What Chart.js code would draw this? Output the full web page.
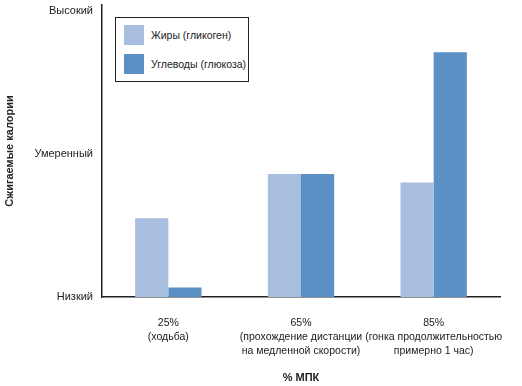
<!DOCTYPE html>
<html>
<head>
<meta charset="utf-8">
<script src="https://cdn.jsdelivr.net/npm/chart.js@4/dist/chart.umd.min.js"></script>
<style>
    body { margin: 0; background: #fff; }
    .wrap { position: relative; width: 522px; height: 386px; }
    #legend {
        position: absolute; left: 115px; top: 17px; width: 132px; height: 63px;
        border: 1px solid #222; background: #fff;
        font: 10.5px 'Liberation Sans', Arial, sans-serif; color: #222;
    }
    #legend .item { position: absolute; left: 8px; height: 20px; line-height: 20px; white-space: nowrap; }
    #legend .sw { display: inline-block; width: 20px; height: 20px; vertical-align: top; margin-right: 7px; }
</style>
</head>
<body>
<div class="wrap">
    <canvas id="myChart" width="522" height="386"></canvas>
    <div id="legend"></div>
</div>
<script>
const categories = [
    ['25%', '(ходьба)'],
    ['65%', '(прохождение дистанции', 'на медленной скорости)'],
    ['85%', '(гонка продолжительностью', 'примерно 1 час)']
];
const fatValues = [0.55, 0.86, 0.80];
const carbValues = [0.066, 0.86, 1.71];
const seriesNames = ['Жиры (гликоген)', 'Углеводы (глюкоза)'];
const levelLabels = ['Низкий', 'Умеренный', 'Высокий'];

const FONT = "'Liberation Sans', Arial, sans-serif";
const colors = ['#a7bede', '#5b90c4'];

const datasets = [fatValues, carbValues].map((vals, i) => ({
    label: seriesNames[i],
    data: vals,
    backgroundColor: colors[i],
    borderWidth: 0,
    barPercentage: 1.0,
    categoryPercentage: 0.5
}));

const ctx = document.getElementById('myChart').getContext('2d');
const myChart = new Chart(ctx, {
    type: 'bar',
    data: { labels: categories, datasets: datasets },
    options: {
        responsive: false,
        animation: false,
        layout: { padding: { top: 5, right: 22, left: 0, bottom: 0 } },
        plugins: { legend: { display: false }, tooltip: { enabled: false } },
        scales: {
            x: {
                grid: { display: false, drawTicks: false },
                border: { display: true, color: '#222', width: 1.5 },
                ticks: {
                    color: '#222', padding: 19, maxRotation: 0, autoSkip: false,
                    font: { family: FONT, size: 10.5, lineHeight: 1.35 }
                },
                title: {
                    display: true, text: '% МПК', color: '#222',
                    font: { family: FONT, size: 11, weight: 'bold' },
                    padding: { top: 0, bottom: 1 }
                },
                afterFit: function(scale) {
                    scale.height = 89;
                    scale.paddingLeft = 0;
                    scale.paddingRight = 0;
                }
            },
            y: {
                min: 0, max: 2.04,
                grid: { display: false, drawTicks: false },
                border: { display: true, color: '#222', width: 1.5 },
                afterBuildTicks: function(scale) {
                    scale.ticks = levelLabels.map((_, i) => ({ value: i }));
                },
                ticks: {
                    color: '#222', padding: 9,
                    font: { family: FONT, size: 11 },
                    callback: function(v) { return levelLabels[v]; }
                },
                title: {
                    display: true, text: 'Сжигаемые калории', color: '#222',
                    font: { family: FONT, size: 11, weight: 'bold' },
                    padding: { top: 3, bottom: 0 }
                },
                afterFit: function(scale) {
                    scale.width = 102;
                    scale.paddingTop = 0;
                    scale.paddingBottom = 0;
                }
            }
        }
    }
});

// legend box
const legend = document.getElementById('legend');
datasets.forEach((ds, i) => {
    const item = document.createElement('div');
    item.className = 'item';
    item.style.top = (7 + i * 29) + 'px';
    item.innerHTML = '<span class="sw" style="background:' + ds.backgroundColor + '"></span>' + ds.label;
    legend.appendChild(item);
});
</script>
</body>
</html>
